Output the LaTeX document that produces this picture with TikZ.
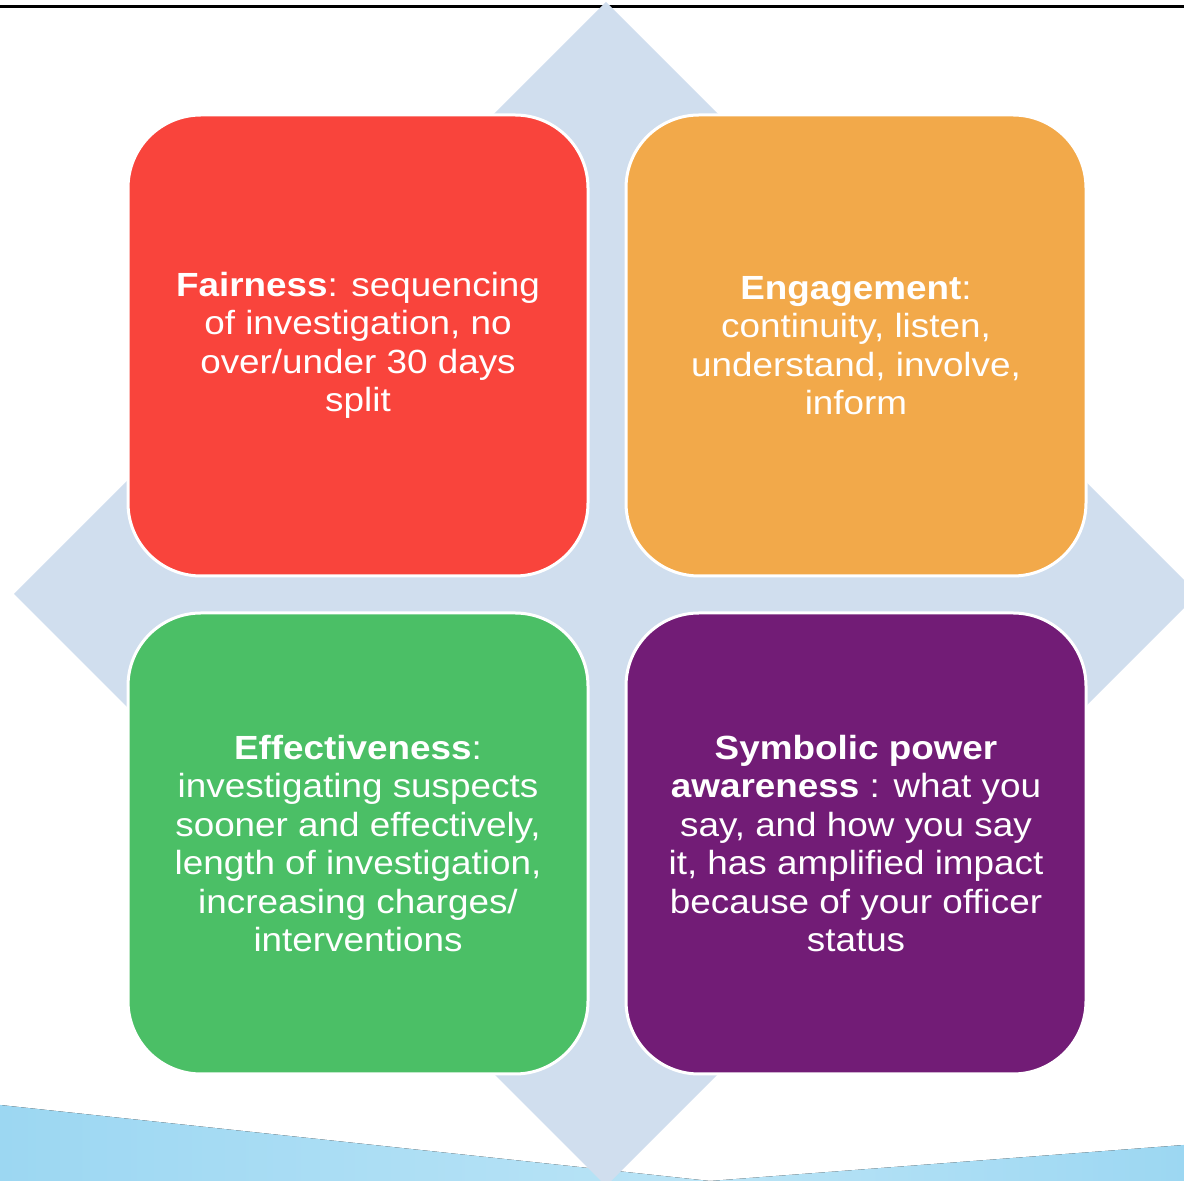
\documentclass[tikz,border=0pt]{standalone}
\usepackage{fontspec}
\newfontfamily\cellfont[FakeStretch=1.1]{Liberation Sans}
\usetikzlibrary{positioning}

\definecolor{fairred}{HTML}{F9443C}
\definecolor{engorange}{HTML}{F2A94A}
\definecolor{effgreen}{HTML}{4BBF66}
\definecolor{powpurple}{HTML}{721C76}
\definecolor{diamondblue}{HTML}{D0DEEE}
\definecolor{wedgedark}{HTML}{9CD7F2}
\definecolor{wedgelight}{HTML}{BAE4F6}

\begin{document}
\begin{tikzpicture}[x=1pt,y=1pt,node distance=498pt,
                    main node/.style={rectangle,rounded corners=73pt,draw=white,
                      line width=3pt,minimum width=460pt,minimum height=461pt,
                      align=center,text=white,
                      font=\cellfont\fontsize{33.5}{38.5}\selectfont}]
  \useasboundingbox (0,0) rectangle (1184,1181);
  \clip (0,0) rectangle (1184,1181);
  % background
  \fill[left color=wedgedark,right color=wedgelight] (0,76) -- (710,0) -- (0,0) -- cycle;
  \fill[left color=wedgelight,right color=wedgedark] (710,0) -- (1184,36) -- (1184,0) -- cycle;
  \draw[line width=3pt] (0,1174) -- (1184,1174);
  \fill[diamondblue] (606,1179) -- (1198,587) -- (606,-5) -- (14,587) -- cycle;
  % the four boxes
  \node[main node,fill=fairred] (1) at (358,835.5)
    {\textbf{Fairness}: sequencing\\of investigation, no\\over/under 30 days\\split};
  \node[main node,fill=engorange] (2) [right of=1]
    {\textbf{Engagement}:\\continuity, listen,\\understand, involve,\\inform};
  \node[main node,fill=effgreen] (3) [below of=1]
    {\textbf{Effectiveness}:\\investigating suspects\\sooner and effectively,\\length of investigation,\\increasing charges/\\interventions};
  \node[main node,fill=powpurple] (4) [right of=3]
    {\textbf{Symbolic power}\\\textbf{awareness} : what you\\say, and how you say\\it, has amplified impact\\because of your officer\\status};
\end{tikzpicture}
\end{document}
